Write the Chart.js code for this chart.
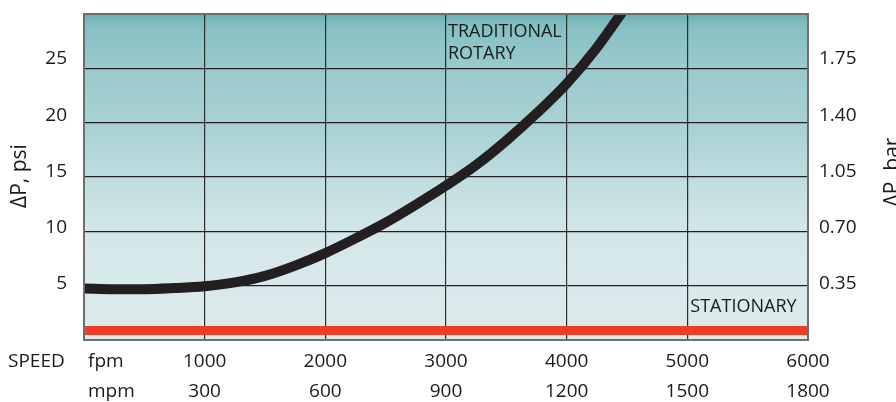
<!DOCTYPE html>
<html>
<head>
<meta charset="utf-8">
<script src="https://cdn.jsdelivr.net/npm/chart.js@4"></script>
<style>
  html, body { margin: 0; padding: 0; background: #ffffff; }
  #wrap { width: 896px; height: 402px; position: relative; }
</style>
</head>
<body>
<div id="wrap"><canvas id="c"></canvas></div>
<script>
// ---- data ----
const speedFpm = [0, 250, 500, 750, 1000, 1250, 1500, 1750, 2000, 2250, 2500, 2750, 3000, 3250, 3500, 3750, 4000, 4250, 4500];
const rotaryPsi = [4.75, 4.68, 4.68, 4.78, 4.95, 5.3, 5.9, 6.85, 8.0, 9.35, 10.8, 12.45, 14.2, 16.1, 18.35, 20.85, 23.6, 26.9, 30.8];
const stationaryFpm = [0, 6000];
const stationaryPsi = [0.87, 0.87];
const fpmTicks = [1000, 2000, 3000, 4000, 5000, 6000];
const mpmTicks = ['300', '600', '900', '1200', '1500', '1800'];
const psiTicks = [5, 10, 15, 20, 25];
const barTicks = [0.35, 0.70, 1.05, 1.40, 1.75];
const barLabels = ['0.35', '0.70', '1.05', '1.40', '1.75'];
const seriesNames = ['TRADITIONAL ROTARY', 'STATIONARY'];

const FONT = "'Open Sans', 'Noto Sans', sans-serif";
const TXT = '#1a1a1a';

const bgPlugin = {
  id: 'bg',
  beforeDraw(chart) {
    const { ctx, chartArea: a } = chart;
    const g = ctx.createLinearGradient(0, a.top, 0, a.bottom);
    g.addColorStop(0, '#6cb1b4');
    g.addColorStop(0.04, '#86c0c3');
    g.addColorStop(0.15, '#98c9cb');
    g.addColorStop(0.35, '#a9d2d4');
    g.addColorStop(0.5, '#bedcde');
    g.addColorStop(0.63, '#d0e5e7');
    g.addColorStop(0.78, '#d8e9eb');
    g.addColorStop(1, '#dbebec');
    ctx.save();
    ctx.fillStyle = g;
    ctx.fillRect(a.left, a.top, a.right - a.left, a.bottom - a.top);
    ctx.restore();
  },
  afterDatasetsDraw(chart) {
    const { ctx, chartArea: a, scales } = chart;
    ctx.save();
    ctx.strokeStyle = '#6d6e71';
    ctx.lineWidth = 2;
    ctx.strokeRect(a.left, a.top, a.right - a.left, a.bottom - a.top);

    // series labels
    ctx.fillStyle = TXT;
    ctx.font = '18px ' + FONT;
    ctx.textAlign = 'left';
    ctx.textBaseline = 'alphabetic';
    const xs = scales.x;
    const parts = seriesNames[0].split(' ');
    const tx = xs.getPixelForValue(3000) + 2;
    ctx.fillText(parts[0], tx, a.top + 23);
    ctx.fillText(parts[1], tx, a.top + 45);
    ctx.fillText(seriesNames[1], xs.getPixelForValue(5000) + 3, a.top + 298);

    // speed row captions
    ctx.font = '19px ' + FONT;
    ctx.textBaseline = 'middle';
    ctx.fillText('SPEED', 8, a.bottom + 22);
    ctx.fillText('fpm', a.left + 4, a.bottom + 22);
    ctx.fillText('mpm', a.left + 4, a.bottom + 52);

    // axis titles
    ctx.font = '21px ' + FONT;
    ctx.textAlign = 'center';
    ctx.save();
    ctx.translate(20, (a.top + a.bottom) / 2 - 1);
    ctx.rotate(-Math.PI / 2);
    ctx.fillText('\u0394P, psi', 0, 0);
    ctx.restore();
    ctx.save();
    ctx.translate(893, (a.top + a.bottom) / 2 - 5);
    ctx.rotate(-Math.PI / 2);
    ctx.fillText('\u0394P, bar', 0, 0);
    ctx.restore();
    ctx.restore();
  }
};

const noPad = s => { s.paddingTop = 0; s.paddingBottom = 0; };

new Chart(document.getElementById('c'), {
  type: 'line',
  data: {
    datasets: [
      {
        label: seriesNames[0],
        data: speedFpm.map((v, i) => ({ x: v, y: rotaryPsi[i] })),
        borderColor: '#231f20',
        borderWidth: 10,
        pointRadius: 0,
        cubicInterpolationMode: 'monotone',
        clip: 0,
        yAxisID: 'y'
      },
      {
        label: seriesNames[1],
        data: stationaryFpm.map((v, i) => ({ x: v, y: stationaryPsi[i] })),
        borderColor: '#ee3d24',
        borderWidth: 9,
        pointRadius: 0,
        clip: 0,
        yAxisID: 'y'
      }
    ]
  },
  options: {
    responsive: true,
    maintainAspectRatio: false,
    animation: false,
    events: [],
    layout: { padding: { top: 14, left: 0, right: 0, bottom: 0 } },
    plugins: { legend: { display: false }, tooltip: { enabled: false } },
    scales: {
      x: {
        type: 'linear',
        min: 0, max: 6000,
        afterBuildTicks: s => { s.ticks = fpmTicks.map(v => ({ value: v })); },
        afterFit: s => { s.height = 62; s.paddingLeft = 0; s.paddingRight = 0; },
        grid: { color: '#2e2e2e', lineWidth: 1.2, drawTicks: false },
        border: { display: false },
        ticks: {
          color: TXT,
          padding: 7,
          maxRotation: 0,
          autoSkip: false,
          font: { family: FONT, size: 19, lineHeight: '30px' },
          callback: (v, i) => [String(fpmTicks[i]), mpmTicks[i]]
        }
      },
      y: {
        position: 'left',
        min: 0, max: 30,
        afterBuildTicks: s => { s.ticks = psiTicks.map(v => ({ value: v })); },
        afterFit: s => { s.width = 0; noPad(s); },
        grid: { color: '#231f20', lineWidth: 1.2, drawTicks: false },
        border: { display: false },
        ticks: { display: false }
      },
      yl: {
        position: 'left',
        min: 0, max: 29,
        afterBuildTicks: s => { s.ticks = psiTicks.map(v => ({ value: v })); },
        afterFit: s => { s.width = 84; noPad(s); },
        grid: { display: false, drawTicks: false },
        border: { display: false },
        ticks: { color: TXT, padding: 17, font: { family: FONT, size: 19 } }
      },
      yr: {
        position: 'right',
        min: 0, max: 2.03,
        afterBuildTicks: s => { s.ticks = barTicks.map(v => ({ value: v })); },
        afterFit: s => { s.width = 88; noPad(s); },
        grid: { display: false, drawTicks: false },
        border: { display: false },
        ticks: {
          color: TXT, padding: 11, font: { family: FONT, size: 19 },
          callback: (v, i) => barLabels[i]
        }
      }
    }
  },
  plugins: [bgPlugin]
});
</script>
</body>
</html>
